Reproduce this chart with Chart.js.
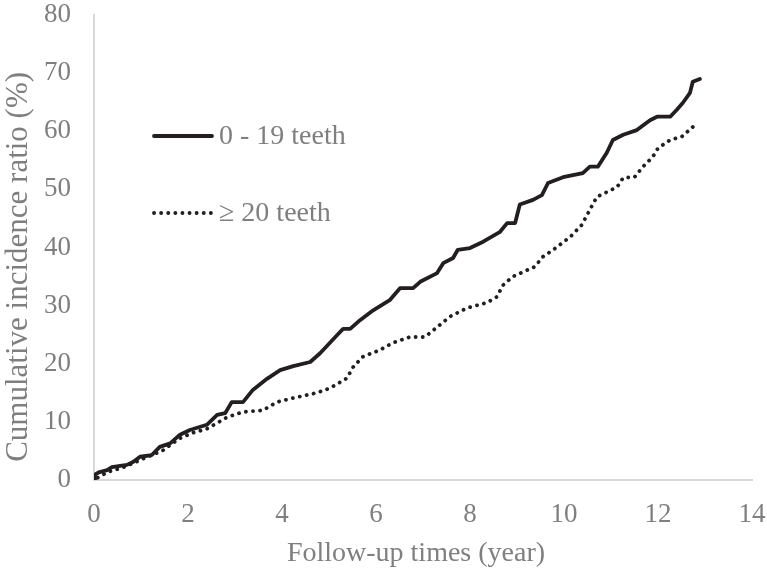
<!DOCTYPE html>
<html>
<head>
<meta charset="utf-8">
<script src="https://cdn.jsdelivr.net/npm/chart.js@4"></script>
<style>
  html, body { margin: 0; padding: 0; background: #fff; }
  #wrap { width: 767px; height: 570px; }
</style>
</head>
<body>
<div id="wrap"><canvas id="chart" width="767" height="570"></canvas></div>
<script>
// data ---------------------------------------------------------------
const fewTeethX = [0, 0.02, 0.1, 0.28, 0.38, 0.7, 0.83, 0.98, 1.23, 1.4, 1.62, 1.83, 2.04, 2.4, 2.62, 2.79, 2.93, 3.17, 3.38, 3.68, 3.96, 4.24, 4.6, 4.81, 5.17, 5.3, 5.45, 5.66, 5.94, 6.3, 6.51, 6.79, 6.94, 7.3, 7.43, 7.64, 7.74, 8.0, 8.28, 8.64, 8.79, 8.96, 9.06, 9.34, 9.53, 9.66, 9.98, 10.4, 10.55, 10.72, 10.91, 11.04, 11.26, 11.55, 11.83, 11.98, 12.26, 12.4, 12.53, 12.68, 12.74, 12.89]
const fewTeethY = [0, 0.9, 1.3, 1.7, 2.2, 2.6, 3.1, 4.0, 4.3, 5.7, 6.3, 7.8, 8.6, 9.5, 11.2, 11.5, 13.4, 13.4, 15.5, 17.4, 18.9, 19.6, 20.3, 21.8, 24.9, 26, 26, 27.5, 29.2, 31, 33, 33, 34.1, 35.6, 37.3, 38.2, 39.6, 39.9, 41, 42.7, 44.2, 44.2, 47.4, 48.2, 49, 51.1, 52.1, 52.8, 53.9, 53.9, 56.3, 58.5, 59.4, 60.2, 61.9, 62.5, 62.5, 63.7, 64.9, 66.6, 68.5, 69]

const manyTeethX = [0.08, 0.3, 0.6, 0.83, 1.23, 1.45, 1.62, 1.83, 2.1, 2.4, 2.62, 2.83, 3.17, 3.6, 3.89, 4.24, 4.74, 5.02, 5.38, 5.51, 5.72, 6.09, 6.36, 6.72, 7.04, 7.36, 7.57, 7.94, 8.36, 8.57, 8.7, 8.91, 9.13, 9.38, 9.55, 9.77, 10.13, 10.38, 10.55, 10.7, 11.13, 11.26, 11.5, 11.68, 11.89, 12.0, 12.26, 12.51, 12.79]
const manyTeethY = [0.4, 1.4, 2.1, 2.9, 4.3, 5.0, 6.0, 7.2, 8.1, 8.8, 9.8, 10.8, 11.7, 12.0, 13.4, 14.1, 15.0, 15.8, 17.5, 19.4, 21.2, 22.4, 23.6, 24.6, 24.6, 26.7, 28.1, 29.6, 30.5, 31.5, 33.5, 35.0, 35.8, 36.7, 38.4, 39.6, 41.8, 43.9, 46.5, 48.7, 50.4, 52.0, 52.1, 53.9, 55.6, 57.1, 58.5, 59.1, 61.1]

const seriesNames = ['0 - 19 teeth', '\u2265 20 teeth']
const xTicks = [0, 2, 4, 6, 8, 10, 12, 14]
const yTicks = [0, 10, 20, 30, 40, 50, 60, 70, 80]

// helpers ------------------------------------------------------------
const toPoints = (xs, ys) => xs.map((x, i) => ({ x: x, y: ys[i] }))
// trailing no-break spaces nudge a centred title off the middle, as in the original
const pad = (n) => '\u00a0'.repeat(n)

const FONT = '"Liberation Serif", "Times New Roman", serif'
const GREY = '#7f7f7f'
const INK = '#231f20'

// legend drawn inside the plot, like the original
const insideLegend = {
    id: 'insideLegend',
    afterDraw(chart) {
        const ctx = chart.ctx
        const rows = [136, 213]
        ctx.save()
        chart.data.datasets.forEach((ds, i) => {
            const y = rows[i]
            ctx.beginPath()
            ctx.strokeStyle = ds.borderColor
            ctx.lineWidth = ds.borderWidth
            ctx.lineCap = ds.borderCapStyle
            ctx.setLineDash(ds.borderDash)
            ctx.moveTo(154, y)
            ctx.lineTo(212, y)
            ctx.stroke()
            ctx.setLineDash([])
            ctx.fillStyle = GREY
            ctx.font = '28px ' + FONT
            ctx.textBaseline = 'middle'
            ctx.fillText(ds.label, 219, y + 1)
        })
        ctx.restore()
    }
}

const ctx = document.getElementById('chart').getContext('2d')
const chart = new Chart(ctx, {
    type: 'line',
    data: {
        datasets: [
            {
                label: seriesNames[0],
                data: toPoints(fewTeethX, fewTeethY),
                borderColor: INK,
                borderWidth: 3.8,
                borderCapStyle: 'round',
                borderJoinStyle: 'round',
                borderDash: [],
                pointRadius: 0,
                tension: 0
            },
            {
                label: seriesNames[1],
                data: toPoints(manyTeethX, manyTeethY),
                borderColor: INK,
                borderWidth: 3.8,
                borderCapStyle: 'round',
                borderDash: [0.1, 7],
                pointRadius: 0,
                tension: 0
            }
        ]
    },
    options: {
        responsive: false,
        animation: false,
        devicePixelRatio: 1,
        layout: { padding: 0 },
        plugins: {
            legend: { display: false },
            tooltip: { enabled: false }
        },
        scales: {
            x: {
                type: 'linear',
                min: 0,
                max: 14,
                afterBuildTicks: (axis) => { axis.ticks = xTicks.map(v => ({ value: v })) },
                afterFit: (axis) => {
                    axis.height = 90
                    axis.paddingLeft = 0
                    axis.paddingRight = 15
                },
                grid: { display: false, drawTicks: false },
                border: { color: '#d9d9d9', width: 2 },
                ticks: { color: GREY, font: { family: FONT, size: 27 }, padding: 19, maxRotation: 0 },
                title: {
                    display: true,
                    text: 'Follow-up times (year)' + pad(2),
                    color: GREY,
                    font: { family: FONT, size: 28 },
                    padding: { top: 0, bottom: 0 }
                }
            },
            y: {
                min: 0,
                max: 80,
                afterBuildTicks: (axis) => { axis.ticks = yTicks.map(v => ({ value: v })) },
                afterFit: (axis) => {
                    axis.width = 94
                    axis.paddingTop = 15
                    axis.paddingBottom = 0
                },
                grid: { display: false, drawTicks: false },
                border: { color: '#d9d9d9', width: 2 },
                ticks: { color: GREY, font: { family: FONT, size: 27 }, padding: 23 },
                title: {
                    display: true,
                    text: 'Cumulative incidence ratio (%)' + pad(5),
                    color: GREY,
                    font: { family: FONT, size: 31 },
                    padding: { top: 0, bottom: 0 }
                }
            }
        }
    },
    plugins: [insideLegend]
})
</script>
</body>
</html>
